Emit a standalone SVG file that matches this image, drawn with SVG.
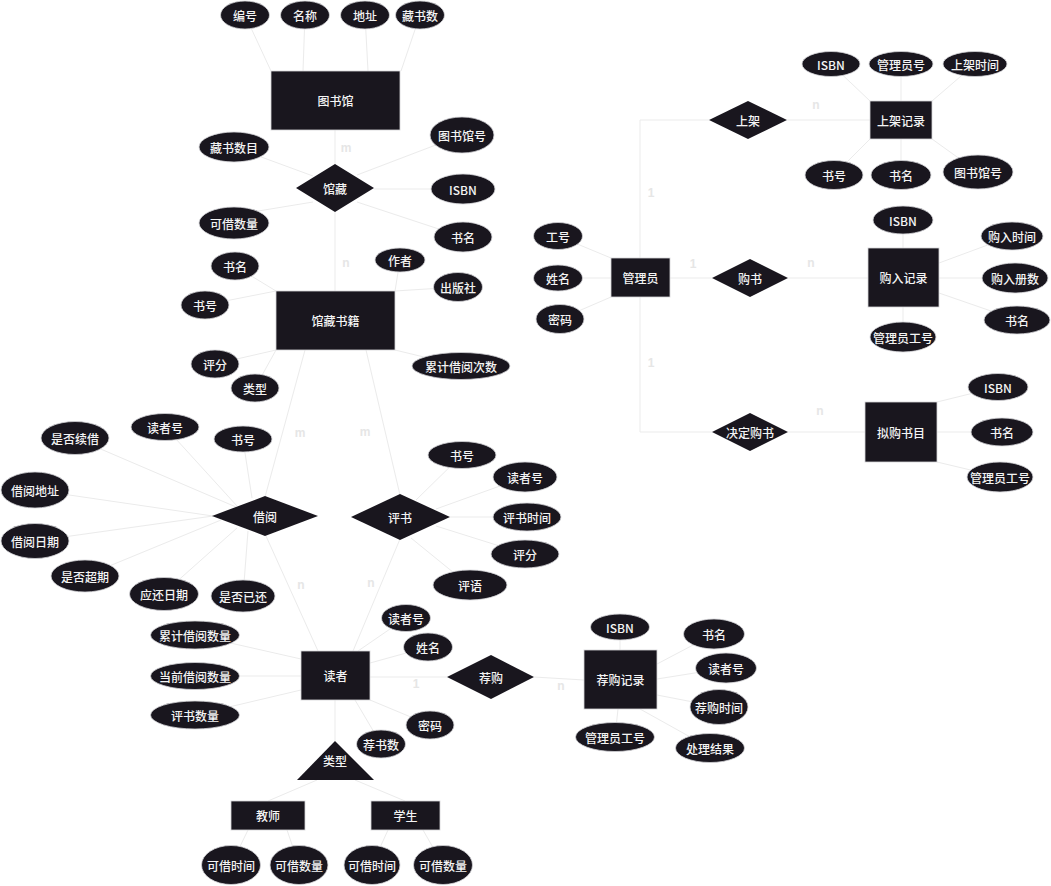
<svg xmlns="http://www.w3.org/2000/svg" width="1051" height="886" viewBox="0 0 1051 886">
<style>
.e,.r{fill:#19161e;stroke:#d4d4d8;stroke-width:0.8}
.d{fill:#19161e}
text{font-family:"Noto Sans CJK SC","Liberation Sans",sans-serif;font-size:12px;font-weight:500;fill:#f4f4f4;text-anchor:middle;dominant-baseline:central}
#connectors line,#connectors polyline{stroke:#ebebeb;stroke-width:1;fill:none}
.lab{fill:#e6e6e6;font-family:"Liberation Sans","Noto Sans",sans-serif;font-weight:bold;font-size:12px}
</style>
<rect width="1051" height="886" fill="#ffffff"/>
<g id="connectors">
<line x1="245" y1="15" x2="271" y2="71"/><line x1="305" y1="15" x2="303" y2="71"/><line x1="365" y1="15" x2="368" y2="71"/><line x1="420" y1="15" x2="401" y2="71"/>
<line x1="335" y1="130" x2="335" y2="291"/>
<line x1="234" y1="147" x2="313" y2="176"/><line x1="462" y1="135" x2="357" y2="175"/><line x1="374" y1="189" x2="463" y2="189"/><line x1="234" y1="215" x2="313" y2="202"/><line x1="357" y1="202" x2="463" y2="237"/>
<line x1="235" y1="266" x2="276" y2="291"/><line x1="205" y1="305" x2="276" y2="291"/><line x1="400" y1="260" x2="395" y2="291"/><line x1="458" y1="287" x2="395" y2="291"/><line x1="215" y1="364" x2="276" y2="350"/><line x1="255" y1="388" x2="276" y2="350"/><line x1="461" y1="366" x2="395" y2="350"/>
<line x1="305" y1="350" x2="265" y2="497"/><line x1="366" y1="350" x2="400" y2="495"/>
<line x1="75" y1="438" x2="236" y2="507"/><line x1="165" y1="427" x2="237" y2="506"/><line x1="243" y1="440" x2="252" y2="498"/><line x1="35" y1="490" x2="213" y2="516"/><line x1="35" y1="541" x2="213" y2="516"/><line x1="85" y1="576" x2="221" y2="520"/><line x1="164" y1="593" x2="237" y2="528"/><line x1="243" y1="596" x2="248" y2="531"/>
<line x1="266" y1="536" x2="318" y2="651"/><line x1="400" y1="539" x2="353" y2="651"/>
<line x1="462" y1="455" x2="416" y2="500"/><line x1="525" y1="477" x2="436" y2="509"/><line x1="450" y1="517" x2="527" y2="517"/><line x1="525" y1="554" x2="436" y2="526"/><line x1="470" y1="586" x2="411" y2="538"/>
<line x1="195" y1="635" x2="301" y2="659"/><line x1="195" y1="676" x2="301" y2="676"/><line x1="195" y1="715" x2="301" y2="690"/><line x1="406" y1="618" x2="358" y2="651"/><line x1="428" y1="647" x2="370" y2="663"/><line x1="430" y1="725" x2="370" y2="700"/><line x1="381" y1="744" x2="355" y2="700"/><line x1="335" y1="700" x2="335" y2="741"/>
<line x1="370" y1="677" x2="447" y2="677"/>
<line x1="317" y1="780" x2="268" y2="801"/><line x1="355" y1="780" x2="405" y2="801"/>
<line x1="248" y1="830" x2="231" y2="865"/><line x1="287" y1="830" x2="299" y2="865"/><line x1="388" y1="830" x2="372" y2="865"/><line x1="423" y1="830" x2="443" y2="865"/>
<line x1="534" y1="677" x2="584" y2="680"/>
<line x1="620" y1="627" x2="620" y2="650"/><line x1="714" y1="634" x2="657" y2="664"/><line x1="726" y1="668" x2="657" y2="679"/><line x1="719" y1="707" x2="657" y2="695"/><line x1="615" y1="737" x2="618" y2="709"/><line x1="710" y1="748" x2="640" y2="709"/>
<polyline points="640,258 640,120 709,120"/><line x1="787" y1="120" x2="870" y2="120"/>
<line x1="831" y1="64" x2="870" y2="101"/><line x1="901" y1="64" x2="901" y2="101"/><line x1="975" y1="64" x2="932" y2="101"/><line x1="834" y1="175" x2="870" y2="139"/><line x1="901" y1="175" x2="901" y2="139"/><line x1="978" y1="172" x2="932" y2="139"/>
<line x1="558" y1="236" x2="611" y2="258"/><line x1="558" y1="278" x2="611" y2="278"/><line x1="560" y1="319" x2="611" y2="297"/>
<line x1="670" y1="278" x2="712" y2="278"/><line x1="788" y1="278" x2="868" y2="278"/>
<line x1="903" y1="220" x2="903" y2="248"/><line x1="1012" y1="236" x2="939" y2="263"/><line x1="939" y1="278" x2="1015" y2="278"/><line x1="1017" y1="320" x2="939" y2="293"/><line x1="903" y1="337" x2="903" y2="307"/>
<polyline points="640,297 640,432 712,432"/><line x1="788" y1="432" x2="865" y2="432"/>
<line x1="998" y1="387" x2="937" y2="402"/><line x1="937" y1="432" x2="1002" y2="432"/><line x1="1000" y1="477" x2="937" y2="462"/>
<g class="labels">
<text class="lab" x="346" y="148">m</text><text class="lab" x="346" y="263">n</text><text class="lab" x="300" y="433">m</text><text class="lab" x="365" y="432">m</text><text class="lab" x="301" y="585">n</text><text class="lab" x="371" y="583">n</text><text class="lab" x="416" y="684">1</text><text class="lab" x="561" y="686">n</text><text class="lab" x="816" y="105">n</text><text class="lab" x="651" y="193">1</text><text class="lab" x="693" y="264">1</text><text class="lab" x="811" y="263">n</text><text class="lab" x="651" y="363">1</text><text class="lab" x="820" y="411">n</text>
</g>
</g>
<g id="n_library"><rect class="r" x="271" y="71" width="129" height="59"/><text x="335.5" y="100.5">图书馆</text></g>
<g id="a_lib_1"><ellipse class="e" cx="245" cy="15" rx="24.5" ry="14"/><text x="245" y="15">编号</text></g>
<g id="a_lib_2"><ellipse class="e" cx="305" cy="15" rx="24.5" ry="14"/><text x="305" y="15">名称</text></g>
<g id="a_lib_3"><ellipse class="e" cx="365" cy="15" rx="24.5" ry="14"/><text x="365" y="15">地址</text></g>
<g id="a_lib_4"><ellipse class="e" cx="420" cy="15" rx="24.5" ry="14"/><text x="420" y="15">藏书数</text></g>
<g id="r_collect"><polygon class="d" points="335,164 374,188 335,212 296,188"/><text x="335" y="188">馆藏</text></g>
<g id="a_col_1"><ellipse class="e" cx="234" cy="147" rx="35" ry="15"/><text x="234" y="147">藏书数目</text></g>
<g id="a_col_2"><ellipse class="e" cx="462" cy="135" rx="32" ry="18"/><text x="462" y="135">图书馆号</text></g>
<g id="a_col_3"><ellipse class="e" cx="463" cy="189" rx="32" ry="15"/><text x="463" y="189">ISBN</text></g>
<g id="a_col_4"><ellipse class="e" cx="234" cy="223" rx="35" ry="16"/><text x="234" y="223">可借数量</text></g>
<g id="a_col_5"><ellipse class="e" cx="463" cy="237" rx="29" ry="15"/><text x="463" y="237">书名</text></g>
<g id="n_books"><rect class="r" x="276" y="291" width="119" height="59"/><text x="335.5" y="320.5">馆藏书籍</text></g>
<g id="a_bk_1"><ellipse class="e" cx="235" cy="266" rx="24" ry="14"/><text x="235" y="266">书名</text></g>
<g id="a_bk_2"><ellipse class="e" cx="205" cy="305" rx="24" ry="14"/><text x="205" y="305">书号</text></g>
<g id="a_bk_3"><ellipse class="e" cx="400" cy="260" rx="25" ry="12"/><text x="400" y="260">作者</text></g>
<g id="a_bk_4"><ellipse class="e" cx="458" cy="287" rx="24.5" ry="14.5"/><text x="458" y="287">出版社</text></g>
<g id="a_bk_5"><ellipse class="e" cx="215" cy="364" rx="24" ry="14"/><text x="215" y="364">评分</text></g>
<g id="a_bk_6"><ellipse class="e" cx="255" cy="388" rx="24" ry="14"/><text x="255" y="388">类型</text></g>
<g id="a_bk_7"><ellipse class="e" cx="461" cy="366" rx="49" ry="13.5"/><text x="461" y="366">累计借阅次数</text></g>
<g id="r_borrow"><polygon class="d" points="265,496 318,516 265,536 212,516"/><text x="265" y="516">借阅</text></g>
<g id="a_bo_1"><ellipse class="e" cx="75" cy="438" rx="34" ry="16.5"/><text x="75" y="438">是否续借</text></g>
<g id="a_bo_2"><ellipse class="e" cx="165" cy="427" rx="34" ry="13.5"/><text x="165" y="427">读者号</text></g>
<g id="a_bo_3"><ellipse class="e" cx="243" cy="439" rx="29" ry="13"/><text x="243" y="439">书号</text></g>
<g id="a_bo_4"><ellipse class="e" cx="35" cy="490" rx="34" ry="18"/><text x="35" y="490">借阅地址</text></g>
<g id="a_bo_5"><ellipse class="e" cx="35" cy="541" rx="34" ry="17.5"/><text x="35" y="541">借阅日期</text></g>
<g id="a_bo_6"><ellipse class="e" cx="85" cy="576" rx="34" ry="16"/><text x="85" y="576">是否超期</text></g>
<g id="a_bo_7"><ellipse class="e" cx="164" cy="594" rx="34.5" ry="16.5"/><text x="164" y="594">应还日期</text></g>
<g id="a_bo_8"><ellipse class="e" cx="243" cy="596" rx="32" ry="16"/><text x="243" y="596">是否已还</text></g>
<g id="r_review"><polygon class="d" points="400,494 450,517 400,540 351,517"/><text x="400" y="517">评书</text></g>
<g id="a_rv_1"><ellipse class="e" cx="462" cy="455" rx="34" ry="13.5"/><text x="462" y="455">书号</text></g>
<g id="a_rv_2"><ellipse class="e" cx="525" cy="477" rx="32" ry="15"/><text x="525" y="477">读者号</text></g>
<g id="a_rv_3"><ellipse class="e" cx="527" cy="517" rx="34" ry="14"/><text x="527" y="517">评书时间</text></g>
<g id="a_rv_4"><ellipse class="e" cx="525" cy="554" rx="34" ry="14"/><text x="525" y="554">评分</text></g>
<g id="a_rv_5"><ellipse class="e" cx="470" cy="585" rx="37" ry="15"/><text x="470" y="585">评语</text></g>
<g id="n_reader"><rect class="r" x="301" y="651" width="69" height="49"/><text x="335.5" y="675.5">读者</text></g>
<g id="a_rd_1"><ellipse class="e" cx="195" cy="635" rx="44.5" ry="14"/><text x="195" y="635">累计借阅数量</text></g>
<g id="a_rd_2"><ellipse class="e" cx="195" cy="676" rx="44.5" ry="13.5"/><text x="195" y="676">当前借阅数量</text></g>
<g id="a_rd_3"><ellipse class="e" cx="195" cy="715" rx="44.5" ry="14"/><text x="195" y="715">评书数量</text></g>
<g id="a_rd_4"><ellipse class="e" cx="406" cy="618" rx="24.5" ry="13.5"/><text x="406" y="618">读者号</text></g>
<g id="a_rd_5"><ellipse class="e" cx="428" cy="647" rx="24.5" ry="14"/><text x="428" y="647">姓名</text></g>
<g id="a_rd_6"><ellipse class="e" cx="430" cy="725" rx="24" ry="14"/><text x="430" y="725">密码</text></g>
<g id="a_rd_7"><ellipse class="e" cx="381" cy="744" rx="24.5" ry="14"/><text x="381" y="744">荐书数</text></g>
<g id="n_type"><polygon class="d" points="335,741 374,780 297,780"/><text x="335" y="760">类型</text></g>
<g id="n_teacher"><rect class="r" x="231" y="801" width="74" height="29"/><text x="268" y="815.5">教师</text></g>
<g id="n_student"><rect class="r" x="371" y="801" width="69" height="29"/><text x="405.5" y="815.5">学生</text></g>
<g id="a_t_1"><ellipse class="e" cx="231" cy="865" rx="29.5" ry="19.5"/><text x="231" y="865">可借时间</text></g>
<g id="a_t_2"><ellipse class="e" cx="299" cy="865" rx="29" ry="19.5"/><text x="299" y="865">可借数量</text></g>
<g id="a_s_1"><ellipse class="e" cx="372" cy="865" rx="28" ry="19.5"/><text x="372" y="865">可借时间</text></g>
<g id="a_s_2"><ellipse class="e" cx="443" cy="865" rx="29.5" ry="19.5"/><text x="443" y="865">可借数量</text></g>
<g id="r_recommend"><polygon class="d" points="491,655 534,677 491,699 447,677"/><text x="491" y="677">荐购</text></g>
<g id="n_recrecord"><rect class="r" x="584" y="650" width="73" height="59"/><text x="620.5" y="679.5">荐购记录</text></g>
<g id="a_rr_1"><ellipse class="e" cx="620" cy="627" rx="29.5" ry="13"/><text x="620" y="627">ISBN</text></g>
<g id="a_rr_2"><ellipse class="e" cx="714" cy="634" rx="30.5" ry="15"/><text x="714" y="634">书名</text></g>
<g id="a_rr_3"><ellipse class="e" cx="726" cy="668" rx="30.5" ry="15"/><text x="726" y="668">读者号</text></g>
<g id="a_rr_4"><ellipse class="e" cx="719" cy="707" rx="29" ry="17.5"/><text x="719" y="707">荐购时间</text></g>
<g id="a_rr_5"><ellipse class="e" cx="615" cy="737" rx="39.5" ry="14.5"/><text x="615" y="737">管理员工号</text></g>
<g id="a_rr_6"><ellipse class="e" cx="710" cy="748" rx="34.5" ry="14.5"/><text x="710" y="748">处理结果</text></g>
<g id="n_admin"><rect class="r" x="611" y="258" width="59" height="39"/><text x="640.5" y="277.5">管理员</text></g>
<g id="a_ad_1"><ellipse class="e" cx="558" cy="236" rx="24.5" ry="13.5"/><text x="558" y="236">工号</text></g>
<g id="a_ad_2"><ellipse class="e" cx="558" cy="278" rx="24.5" ry="13"/><text x="558" y="278">姓名</text></g>
<g id="a_ad_3"><ellipse class="e" cx="560" cy="319" rx="24" ry="14.5"/><text x="560" y="319">密码</text></g>
<g id="r_shelve"><polygon class="d" points="748,101 787,120 748,139 709,120"/><text x="748" y="120">上架</text></g>
<g id="n_shelfrec"><rect class="r" x="870" y="101" width="62" height="38"/><text x="901" y="120">上架记录</text></g>
<g id="a_sr_1"><ellipse class="e" cx="831" cy="64" rx="29" ry="12.5"/><text x="831" y="64">ISBN</text></g>
<g id="a_sr_2"><ellipse class="e" cx="901" cy="64" rx="32" ry="12.5"/><text x="901" y="64">管理员号</text></g>
<g id="a_sr_3"><ellipse class="e" cx="975" cy="64" rx="32" ry="12.5"/><text x="975" y="64">上架时间</text></g>
<g id="a_sr_4"><ellipse class="e" cx="834" cy="175" rx="29" ry="14.5"/><text x="834" y="175">书号</text></g>
<g id="a_sr_5"><ellipse class="e" cx="901" cy="175" rx="30" ry="14.5"/><text x="901" y="175">书名</text></g>
<g id="a_sr_6"><ellipse class="e" cx="978" cy="172" rx="35" ry="17"/><text x="978" y="172">图书馆号</text></g>
<g id="r_buy"><polygon class="d" points="750,259 788,278 750,297 712,278"/><text x="750" y="278">购书</text></g>
<g id="n_buyrec"><rect class="r" x="868" y="248" width="71" height="59"/><text x="903.5" y="277.5">购入记录</text></g>
<g id="a_br_1"><ellipse class="e" cx="903" cy="220" rx="30" ry="14"/><text x="903" y="220">ISBN</text></g>
<g id="a_br_2"><ellipse class="e" cx="1012" cy="236" rx="31" ry="14"/><text x="1012" y="236">购入时间</text></g>
<g id="a_br_3"><ellipse class="e" cx="1015" cy="278" rx="33" ry="15"/><text x="1015" y="278">购入册数</text></g>
<g id="a_br_4"><ellipse class="e" cx="1017" cy="320" rx="33" ry="14"/><text x="1017" y="320">书名</text></g>
<g id="a_br_5"><ellipse class="e" cx="903" cy="337" rx="33" ry="15"/><text x="903" y="337">管理员工号</text></g>
<g id="r_decide"><polygon class="d" points="750,413 788,432 750,451 712,432"/><text x="750" y="432">决定购书</text></g>
<g id="n_plan"><rect class="r" x="865" y="402" width="72" height="60"/><text x="901" y="432">拟购书目</text></g>
<g id="a_pl_1"><ellipse class="e" cx="998" cy="387" rx="30" ry="13.5"/><text x="998" y="387">ISBN</text></g>
<g id="a_pl_2"><ellipse class="e" cx="1002" cy="432" rx="31" ry="14"/><text x="1002" y="432">书名</text></g>
<g id="a_pl_3"><ellipse class="e" cx="1000" cy="477" rx="33" ry="15"/><text x="1000" y="477">管理员工号</text></g>
</svg>
